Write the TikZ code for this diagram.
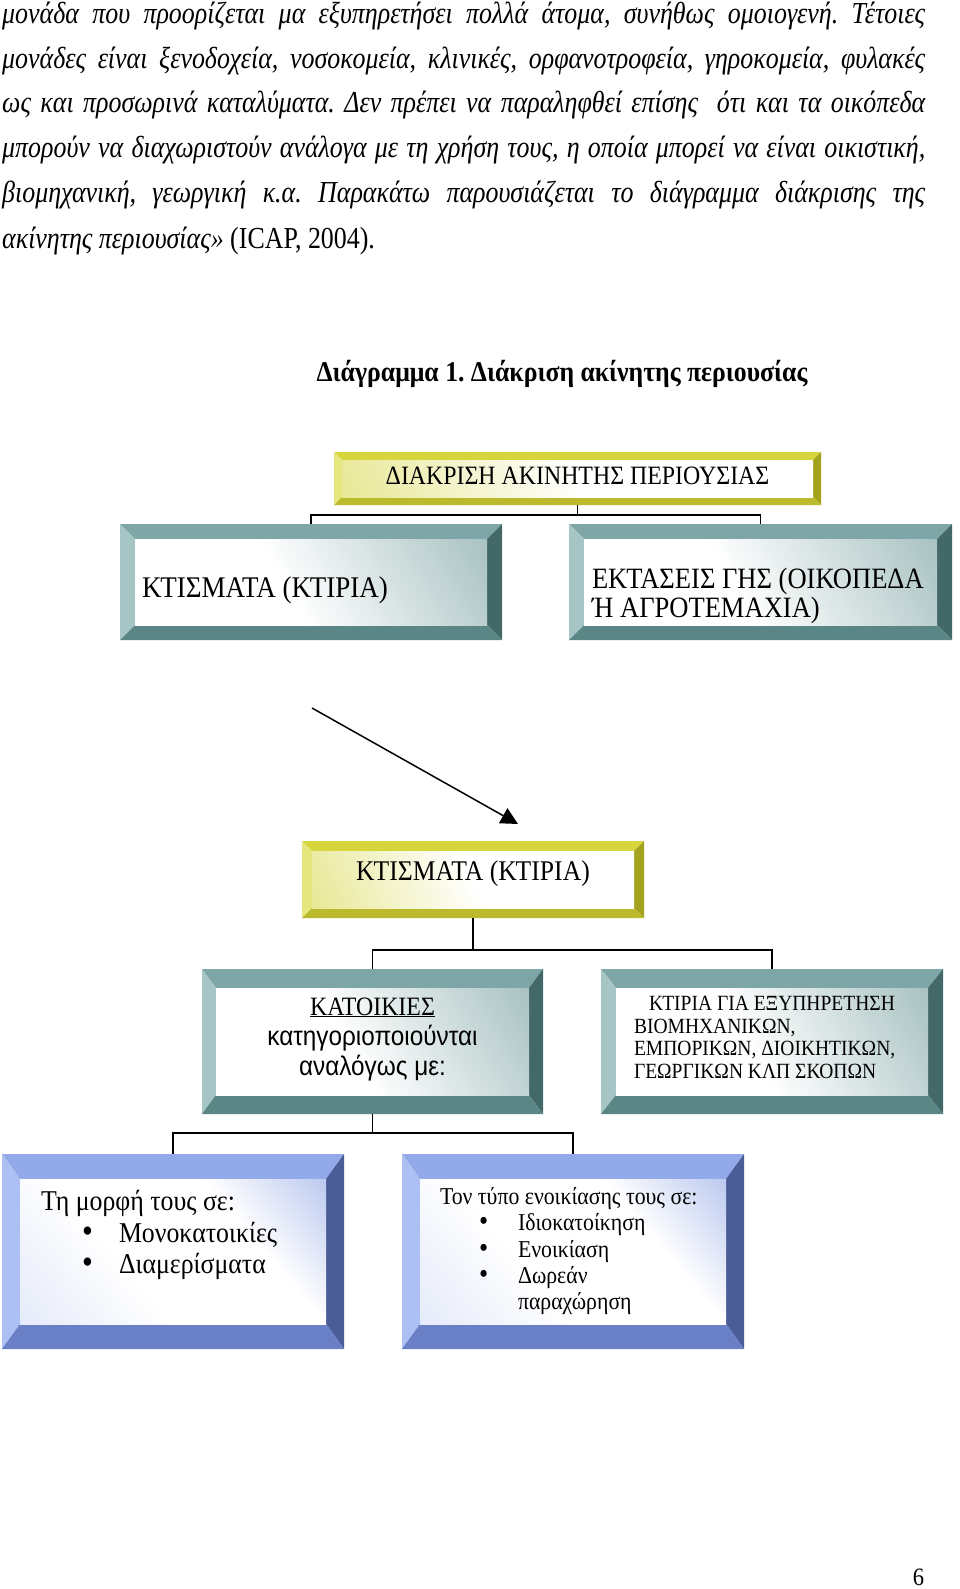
\documentclass[tikz,border=0pt]{standalone}
\usepackage{fontspec}
\setmainfont{Liberation Serif}[FakeStretch=0.9]
\newfontfamily\grsans{Liberation Sans}[FakeStretch=0.9]
\newfontfamily\bodyfont{Liberation Serif}[FakeStretch=0.85]
\usetikzlibrary{arrows.meta}
\frenchspacing
\definecolor{tT}{HTML}{7EA6A6}
\definecolor{tL}{HTML}{A6C5C5}
\definecolor{tR}{HTML}{436868}
\definecolor{tB}{HTML}{5B8686}
\definecolor{tF}{HTML}{86A9A9}
\definecolor{yT}{HTML}{D6D63C}
\definecolor{yL}{HTML}{E6E67E}
\definecolor{yR}{HTML}{A3A31E}
\definecolor{yB}{HTML}{BABA2C}
\definecolor{yF}{HTML}{DCDC60}
\definecolor{bT}{HTML}{93AAEA}
\definecolor{bL}{HTML}{ACC0F3}
\definecolor{bR}{HTML}{4A5D97}
\definecolor{bB}{HTML}{697FC6}
\definecolor{bF}{HTML}{8AA2E4}
\pgfdeclarehorizontalshading{tealface}{100bp}{color(0bp)=(white); color(45bp)=(white); color(100bp)=(tF)}
\pgfdeclarehorizontalshading{yelface}{100bp}{color(0bp)=(yF); color(50bp)=(white); color(100bp)=(white)}
\pgfdeclarehorizontalshading{bluface}{100bp}{color(0bp)=(bF!35); color(40bp)=(white); color(65bp)=(white); color(100bp)=(bF)}
\newcommand\bevelfill[7]{%
  \coordinate (bvnw) at (path picture bounding box.north west);
  \coordinate (bvne) at (path picture bounding box.north east);
  \coordinate (bvse) at (path picture bounding box.south east);
  \coordinate (bvsw) at (path picture bounding box.south west);
  \coordinate (bvinw) at ([shift={(#1,#2)}]bvnw);
  \coordinate (bvine) at ([shift={(-#1,#2)}]bvne);
  \coordinate (bvise) at ([shift={(-#1,-#2)}]bvse);
  \coordinate (bvisw) at ([shift={(#1,-#2)}]bvsw);
  \fill[#3] (bvnw) -- (bvne) -- (bvine) -- (bvinw) -- cycle;
  \fill[#4] (bvnw) -- (bvinw) -- (bvisw) -- (bvsw) -- cycle;
  \fill[#5] (bvne) -- (bvse) -- (bvise) -- (bvine) -- cycle;
  \fill[#6] (bvsw) -- (bvisw) -- (bvise) -- (bvse) -- cycle;
  \shade[#7] (bvinw) rectangle (bvise);
}
\newcommand\boxtxt[4]{\raisebox{#1}[0pt][0pt]{\parbox[b]{#2}{#3#4}}}
\newcommand\bul[1]{\makebox[78pt][l]{\hspace*{#1}\scalebox{1.2}{\textbullet}}}
\tikzset{
  bevbox/.style={draw=none, inner sep=0pt},
  tealbox/.style 2 args={bevbox, path picture={\bevelfill{#1}{#2}{tT}{tL}{tR}{tB}{shading=tealface,shading angle=30}}},
  yelbox/.style 2 args={bevbox, path picture={\bevelfill{#1}{#2}{yT}{yL}{yR}{yB}{shading=yelface,shading angle=25}}},
  blubox/.style 2 args={bevbox, path picture={\bevelfill{#1}{#2}{bT}{bL}{bR}{bB}{shading=bluface,shading angle=40}}},
  conn/.style={draw=black, line width=1.6pt},
  bodyline/.style={anchor=base west, inner sep=0pt, font=\bodyfont\itshape\fontsize{30.5}{32}\selectfont},
}
\begin{document}
\begin{tikzpicture}[x=1pt, y=-1pt]
\fill[white] (0,0) rectangle (960,1589);
\useasboundingbox (0,0) rectangle (960,1589);

% paragraph
\node[bodyline] (p1) at (2,24) {\makebox[923pt][s]{μονάδα που προορίζεται μα εξυπηρετήσει πολλά άτομα, συνήθως ομοιογενή. Τέτοιες}};
\node[bodyline] (p2) at (2,68.5) {\makebox[923pt][s]{μονάδες είναι ξενοδοχεία, νοσοκομεία, κλινικές, ορφανοτροφεία, γηροκομεία, φυλακές}};
\node[bodyline] (p3) at (2,113) {\makebox[923pt][s]{ως και προσωρινά καταλύματα. Δεν πρέπει να παραληφθεί επίσης~ ότι και τα οικόπεδα}};
\node[bodyline] (p4) at (2,158) {\makebox[923pt][s]{μπορούν να διαχωριστούν ανάλογα με τη χρήση τους, η οποία μπορεί να είναι οικιστική,}};
\node[bodyline] (p5) at (2,203) {\makebox[923pt][s]{βιομηχανική, γεωργική κ.α. Παρακάτω παρουσιάζεται το διάγραμμα διάκρισης της}};
\node[bodyline] (p6) at (2,248) {ακίνητης περιουσίας» {\upshape (ICAP, 2004).}};

% title
\node[anchor=base, inner sep=0pt, font=\fontsize{28.6}{30}\selectfont\bfseries] (title) at (562,381) {Διάγραμμα 1. Διάκριση ακίνητης περιουσίας};

% level 1
\node[yelbox={8}{8}, minimum width=487pt, minimum height=53pt] (top) at (577.5,478.5)
  {\boxtxt{-5.9pt}{480pt}{\centering}{\fontsize{26.5}{30}\selectfont ΔΙΑΚΡΙΣΗ ΑΚΙΝΗΤΗΣ ΠΕΡΙΟΥΣΙΑΣ}};
\node[tealbox={15}{15}, minimum width=382pt, minimum height=116pt] (bld) at (311,582)
  {\boxtxt{-15pt}{338pt}{\raggedright}{\fontsize{30}{29}\selectfont ΚΤΙΣΜΑΤΑ (ΚΤΙΡΙΑ)}};
\node[tealbox={15}{15}, minimum width=383pt, minimum height=116pt] (lnd) at (760.5,582)
  {\boxtxt{-35.5pt}{337pt}{\raggedright}{\fontsize{29.5}{29.5}\selectfont \mbox{ΕΚΤΑΣΕΙΣ ΓΗΣ (ΟΙΚΟΠΕΔΑ}\\ \mbox{Ή ΑΓΡΟΤΕΜΑΧΙΑ)}}};
\draw[conn] (top.south) -- ++(0,10) -| (bld.north);
\draw[conn] (top.south) -- ++(0,10) -| (lnd.north);

% arrow
\coordinate (as) at (312,708);
\coordinate (ae) at (518,824);
\draw[line width=1.5pt, -{Triangle[length=17pt,width=17pt]}] (as) -- (ae);

% level 2
\node[yelbox={10}{10}, minimum width=342pt, minimum height=77pt] (bld2) at (473,879.5)
  {\boxtxt{-1pt}{330pt}{\centering}{\fontsize{28.5}{30}\selectfont ΚΤΙΣΜΑΤΑ (ΚΤΙΡΙΑ)}};
\node[tealbox={14}{19}, minimum width=341pt, minimum height=145pt] (res) at (372.5,1041.5)
  {\boxtxt{-33.5pt}{330pt}{\centering}{\fontsize{26.5}{30}\selectfont\underline{ΚΑΤΟΙΚΙΕΣ}\\ \grsans\fontsize{27}{30}\selectfont κατηγοριοποιούνται\\ αναλόγως με:}};
\node[tealbox={15}{19}, minimum width=342pt, minimum height=145pt] (oth) at (772,1041.5)
  {\boxtxt{-37pt}{276pt}{\raggedright}{\fontsize{21.7}{22.6}\selectfont \mbox{\hspace*{15pt}ΚΤΙΡΙΑ ΓΙΑ ΕΞΥΠΗΡΕΤΗΣΗ}\\ \mbox{ΒΙΟΜΗΧΑΝΙΚΩΝ,}\\ \mbox{ΕΜΠΟΡΙΚΩΝ, ΔΙΟΙΚΗΤΙΚΩΝ,}\\ \mbox{ΓΕΩΡΓΙΚΩΝ ΚΛΠ ΣΚΟΠΩΝ}}};
\draw[conn] (bld2.south) -- ++(0,32) -| (res.north);
\draw[conn] (bld2.south) -- ++(0,32) -| (oth.north);

% level 3
\node[blubox={18}{25}, minimum width=342pt, minimum height=195pt] (form) at (173,1251.5)
  {\boxtxt{-22pt}{264pt}{\raggedright}{\fontsize{28.7}{31.5}\selectfont \mbox{Τη μορφή τους σε:}\\ \bul{41pt}Μονοκατοικίες\\ \bul{41pt}Διαμερίσματα}};
\node[blubox={18}{25}, minimum width=342pt, minimum height=195pt] (rent) at (573,1251.5)
  {\boxtxt{-58pt}{266pt}{\raggedright}{\fontsize{24.2}{26.2}\selectfont \mbox{Τον τύπο ενοικίασης τους σε:}\\ \bul{39pt}Ιδιοκατοίκηση\\ \bul{39pt}Ενοικίαση\\ \bul{39pt}Δωρεάν\\ \hspace*{78pt}παραχώρηση}};
\draw[conn] (res.south) -- ++(0,19) -| (form.north);
\draw[conn] (res.south) -- ++(0,19) -| (rent.north);

% page number
\node[anchor=base, inner sep=0pt, font=\fontsize{25}{30}\selectfont] (pg) at (918.5,1585) {6};
\end{tikzpicture}
\end{document}
